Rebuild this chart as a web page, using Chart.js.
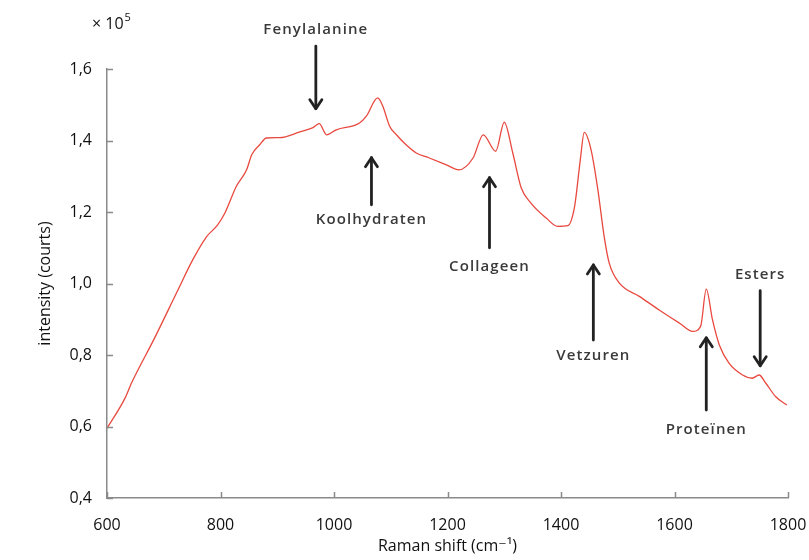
<!DOCTYPE html>
<html>
<head>
<meta charset="utf-8">
<script src="https://cdn.jsdelivr.net/npm/chart.js@4"></script>
<style>
  html, body { margin: 0; padding: 0; background: #fff; }
  #wrap { width: 809px; height: 560px; }
</style>
</head>
<body>
<div id="wrap"><canvas id="spectrum"></canvas></div>
<script>
// Raman spectrum (intensity in units of 10^5)
const ramanShift = [600, 632, 643, 684, 725, 751, 775, 795, 808, 828, 846, 855, 869, 881, 904, 940, 963, 974, 987, 1004,
  1045, 1057, 1077, 1086, 1098, 1110, 1127, 1145, 1168, 1198, 1220, 1245, 1263, 1285, 1300, 1315, 1330, 1347, 1374, 1394,
  1412, 1424, 1434, 1441, 1453, 1465, 1476, 1485, 1503, 1538, 1573, 1609, 1632, 1646, 1656, 1667, 1679, 1696, 1720, 1737,
  1749, 1761, 1778, 1798];
const intensity = [0.595, 0.68, 0.721, 0.848, 0.982, 1.066, 1.13, 1.164, 1.198, 1.272, 1.318, 1.36, 1.388, 1.407, 1.408, 1.424, 1.436, 1.447, 1.416, 1.43,
  1.449, 1.468, 1.519, 1.496, 1.44, 1.416, 1.388, 1.365, 1.351, 1.332, 1.318, 1.351, 1.416, 1.37, 1.451, 1.365, 1.267, 1.225, 1.183, 1.16,
  1.162, 1.216, 1.346, 1.423, 1.374, 1.262, 1.132, 1.057, 1.001, 0.964, 0.926, 0.889, 0.866, 0.88, 0.984, 0.898, 0.828, 0.777, 0.744, 0.735,
  0.744, 0.721, 0.684, 0.66];

const xTicks = [600, 800, 1000, 1200, 1400, 1600, 1800];
const yTicks = [0.4, 0.6, 0.8, 1.0, 1.2, 1.4, 1.6];

// annotations: label, x (cm-1), label y, arrow tail y, arrow tip y
const noteLabels = ['Fenylalanine', 'Koolhydraten', 'Collageen', 'Vetzuren', 'Proteïnen', 'Esters'];
const noteX      = [968, 1066, 1274, 1457, 1656, 1751];
const noteTextY  = [1.71, 1.178, 1.047, 0.798, 0.59, 1.024];
const noteTailY  = [1.664, 1.22, 1.10, 0.842, 0.646, 0.980];
const noteTipY   = [1.489, 1.352, 1.296, 1.052, 0.848, 0.770];

const FONT = "'Open Sans', 'DejaVu Sans', sans-serif";
const AXIS = '#8a8a8a';

const extras = {
  id: 'extras',
  afterDraw(chart) {
    const { ctx, scales: { x, y }, chartArea: a } = chart;
    ctx.save();
    // inward tick marks
    ctx.strokeStyle = AXIS; ctx.lineWidth = 1.5;
    xTicks.forEach(v => {
      const px = Math.round(x.getPixelForValue(v)) + 0.5;
      ctx.beginPath(); ctx.moveTo(px, a.bottom); ctx.lineTo(px, a.bottom - 6); ctx.stroke();
    });
    yTicks.forEach(v => {
      const py = Math.round(y.getPixelForValue(v)) + 0.5;
      ctx.beginPath(); ctx.moveTo(a.left, py); ctx.lineTo(a.left + 6, py); ctx.stroke();
    });
    // x 10^5 multiplier
    ctx.fillStyle = '#111';
    ctx.textBaseline = 'alphabetic'; ctx.textAlign = 'left';
    ctx.font = `16px ${FONT}`;
    ctx.fillText('× 10', 92, 29);
    const w = ctx.measureText('× 10').width;
    ctx.font = `11px ${FONT}`;
    ctx.fillText('5', 92 + w + 1, 21);
    // annotations
    ctx.strokeStyle = '#222'; ctx.lineWidth = 2.8; ctx.lineCap = 'round'; ctx.lineJoin = 'round';
    noteLabels.forEach((lab, i) => {
      const px = x.getPixelForValue(noteX[i]);
      const ty = y.getPixelForValue(noteTextY[i]);
      const y0 = y.getPixelForValue(noteTailY[i]);
      const y1 = y.getPixelForValue(noteTipY[i]);
      ctx.fillStyle = '#3a3a3a';
      ctx.font = `600 15px ${FONT}`;
      ctx.letterSpacing = '1.1px';
      ctx.textAlign = 'center'; ctx.textBaseline = 'middle';
      ctx.fillText(lab, px, ty);
      ctx.letterSpacing = '0px';
      ctx.beginPath(); ctx.moveTo(px, y0); ctx.lineTo(px, y1); ctx.stroke();
      const d = y1 > y0 ? -1 : 1;
      ctx.beginPath();
      ctx.moveTo(px - 6, y1 + d * 9); ctx.lineTo(px, y1); ctx.lineTo(px + 6, y1 + d * 9);
      ctx.stroke();
    });
    ctx.restore();
  }
};

new Chart(document.getElementById('spectrum').getContext('2d'), {
  type: 'line',
  data: {
    datasets: [{
      data: ramanShift.map((v, i) => ({ x: v, y: intensity[i] })),
      borderColor: '#e8493f', borderWidth: 1.3,
      pointRadius: 0, fill: false, cubicInterpolationMode: 'monotone'
    }]
  },
  options: {
    responsive: true, maintainAspectRatio: false, animation: false,
    layout: { padding: { top: 69, right: 21, left: 0, bottom: 0 } },
    plugins: { legend: { display: false }, tooltip: { enabled: false } },
    scales: {
      x: {
        type: 'linear', min: 600, max: 1800,
        afterBuildTicks: s => { s.ticks = xTicks.map(v => ({ value: v })); },
        afterFit: s => { s.height = 62; s.paddingLeft = 0; s.paddingRight = 0; },
        grid: { display: false },
        border: { display: true, color: AXIS, width: 1.5 },
        ticks: { color: '#111', font: { family: FONT, size: 16 }, padding: 10, maxRotation: 0, callback: v => String(v) },
        title: { display: true, text: 'Raman shift (cm⁻¹)', color: '#111', font: { family: FONT, size: 16 }, padding: { top: 0 } }
      },
      y: {
        min: 0.4, max: 1.6,
        afterBuildTicks: s => { s.ticks = yTicks.map(v => ({ value: v })); },
        afterFit: s => { s.width = 107; },
        grid: { display: false },
        border: { display: true, color: AXIS, width: 1.5 },
        ticks: { color: '#111', font: { family: FONT, size: 16 }, padding: 7, callback: v => v.toFixed(1).replace('.', ',') },
        title: { display: true, text: 'intensity (courts)', color: '#111', font: { family: FONT, size: 16 }, padding: { top: 36 } }
      }
    }
  },
  plugins: [extras]
});
</script>
</body>
</html>
